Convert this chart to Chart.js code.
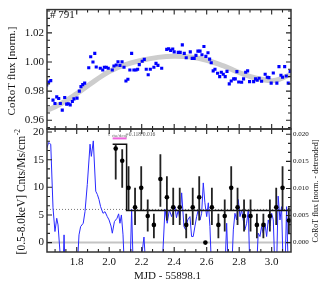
<!DOCTYPE html>
<html><head><meta charset="utf-8">
<script src="https://cdn.jsdelivr.net/npm/chart.js@4.4.1/dist/chart.umd.min.js"></script>
<style>
html,body{margin:0;padding:0;background:#fff;}
#wrap{position:relative;width:327px;height:287px;background:#fff;}
canvas{position:absolute;left:0;top:0;}
</style></head><body>
<div id="wrap"><canvas id="cTop" width="327" height="287"></canvas><canvas id="cBot" width="327" height="287"></canvas></div>
<script>
// ---------------- data ----------------
const corotTime = [1.615,1.627,1.640,1.654,1.666,1.677,1.689,1.699,1.711,1.726,1.738,1.748,1.760,1.773,1.783,1.802,1.816,1.826,1.837,1.849,
1.874,1.886,1.900,1.911,1.920,1.945,1.960,1.970,1.982,1.994,2.019,2.029,2.043,2.054,2.066,2.079,2.091,2.103,2.115,2.127,
2.138,2.152,2.165,2.175,2.185,2.203,2.216,2.228,2.240,2.253,2.275,2.288,2.300,2.323,2.354,2.366,2.378,2.391,2.400,2.425,
2.437,2.450,2.462,2.474,2.499,2.511,2.523,2.534,2.546,2.559,2.571,2.583,2.595,2.608,2.618,2.628,2.640,2.651,2.667,2.680,
2.690,2.702,2.714,2.725,2.739,2.751,2.766,2.776,2.786,2.797,2.815,2.827,2.840,2.852,2.864,2.889,2.901,2.911,2.923,2.938,
2.960,2.973,2.983,2.997,3.010,3.032,3.045,3.057,3.067,3.080,3.090,3.102,3.114];
const corotFlux = [0.9843,0.9863,0.9872,0.9738,0.9715,0.9761,0.9749,0.9715,0.9670,0.9756,0.9711,0.9713,0.9706,0.9729,0.9747,0.9752,0.9800,0.9831,0.9845,0.9855,
0.9961,1.0036,1.0000,1.0059,0.9966,0.9957,0.9945,0.9964,0.9964,0.9957,0.9945,0.9973,0.9980,1.0002,0.9977,1.0002,0.9964,0.9870,0.9882,0.9945,
1.0059,0.9945,0.9945,0.9950,0.9982,1.0005,1.0018,0.9950,0.9913,0.9950,0.9964,0.9991,0.9977,0.9957,1.0087,1.0091,1.0080,1.0089,1.0070,1.0066,
1.0066,1.0118,1.0059,1.0029,1.0070,1.0025,1.0025,1.0046,1.0075,1.0075,1.0050,1.0107,1.0039,1.0064,1.0020,0.9995,0.9939,0.9950,0.9923,0.9900,
0.9930,0.9916,0.9900,0.9936,0.9850,0.9870,0.9884,0.9884,0.9934,0.9863,0.9861,0.9884,0.9930,0.9939,0.9865,0.9865,0.9884,0.9875,0.9889,0.9868,
0.9916,0.9895,0.9893,0.9855,0.9925,0.9855,0.9968,0.9909,0.9895,0.9968,0.9904,0.9855,0.9936];
const fitTime = [1.600,1.700,1.800,1.900,2.000,2.100,2.200,2.300,2.400,2.500,2.600,2.700,2.800,2.900,3.000,3.050,3.130];
const fitFlux = [0.9658,0.9712,0.9783,0.9862,0.9935,0.9982,1.0012,1.0032,1.0040,1.0034,1.0012,0.9975,0.9928,0.9890,0.9871,0.9882,0.9925];

const xrayTime = [1.615,1.627,1.640,1.654,1.666,1.677,1.685,1.705,1.716,1.722,1.728,1.802,1.814,1.824,1.840,1.851,1.865,1.882,1.890,1.902,
1.917,1.927,1.937,1.947,1.962,1.974,1.988,1.999,2.011,2.019,2.032,2.048,2.058,2.066,2.075,2.085,2.094,2.128,2.138,2.148,
2.189,2.214,2.226,2.325,2.343,2.357,2.370,2.384,2.394,2.405,2.414,2.425,2.435,2.446,2.460,2.471,2.483,2.497,2.507,2.517,
2.528,2.538,2.548,2.559,2.569,2.579,2.589,2.600,2.610,2.620,2.630,2.712,2.723,2.733,2.754,2.764,2.774,2.784,2.794,2.805,
2.815,2.825,2.835,2.846,2.856,2.866,2.907,2.917,2.928,2.938,2.948,2.959,2.969,2.979,2.989,3.000,3.010,3.020,3.030,3.040,
3.051,3.061,3.071,3.082,3.092,3.102,3.125];
const xrayRate = [17.0,18.1,17.8,6.3,2.0,4.4,3.2,-5,-5,1.4,-5,-5,1.4,2.9,3.5,5.6,10.5,17.8,15.6,18.4,
9.3,8.7,7.8,6.5,5.3,5.6,4.7,4.1,3.0,1.7,3.8,4.4,5.2,3.5,5.0,1.4,-5,-5,6.0,-5,
-5,1.0,-5,-5,6.0,3.5,5.9,4.7,5.6,6.5,4.5,5.9,4.1,9.0,2.9,2.3,4.1,4.7,1.1,1.1,
3.0,4.7,5.9,4.1,5.3,10.8,7.2,4.7,7.2,2.9,-5,-5,3.5,-5,-5,2.3,5.3,4.1,7.8,4.7,
5.9,4.1,2.3,3.5,5.9,-5,-5,1.7,1.1,2.9,1.7,3.5,1.1,4.1,3.0,5.3,4.1,-5,-5,8.4,
4.1,6.5,-5,-5,6.5,-5,-5];

const binTime = [2.040,2.080,2.119,2.159,2.197,2.237,2.275,2.315,2.355,2.394,2.434,2.474,2.514,2.554,2.592,2.632,2.672,2.711,2.751,2.790,2.830,2.870,2.909,2.949,2.989,3.028,3.067,3.106];
const binRate = [17.0,14.8,9.9,6.4,9.9,4.8,3.2,11.5,8.2,6.4,6.4,3.2,6.4,8.2,0.0,6.4,3.2,4.8,9.9,6.4,4.8,4.8,3.2,3.2,4.8,6.4,9.9,4.0];
const binLow  = [11.4,9.9,5.9,3.2,5.9,2.0,0.8,6.5,4.0,3.2,3.2,0.8,3.2,4.0,null,3.2,0.8,2.0,5.9,3.2,2.0,2.0,0.8,0.8,2.0,3.2,5.9,1.6];
const binHigh = [17.8,16.9,13.8,9.9,13.8,7.8,5.2,16.0,12.0,9.9,9.9,5.2,9.9,12.0,null,9.9,5.2,7.8,13.8,9.9,7.8,7.8,5.2,5.2,7.8,9.9,13.8,6.4];

const blockEdges = [2.021, 2.107, 3.119];
const blockLevels = [17.8, 5.8];
const meanLevel = 6.0;
const tauSpan = [2.021, 2.107];
const tauLevel = 18.85;
const tauLabel = "=0.118/0.016";

const xRange = [1.617, 3.119];
const fluxRange = [0.954, 1.036];
const rateRange = [-1.7, 20.55];
const detrRange = [-0.00173, 0.02098];

const xTickStep = 0.2, fluxTickStep = 0.02, rateTickStep = 5, detrTickStep = 0.005;

// ---------------- helpers ----------------
const serif = '"Liberation Serif","Times New Roman",serif';
function isMult(v, step){ const r = v/step; return Math.abs(r - Math.round(r)) < 1e-6; }
function tickValues(scale, step){
  const out = [];
  const k0 = Math.ceil(scale.min/step - 1e-9), k1 = Math.floor(scale.max/step + 1e-9);
  for (let k = k0; k <= k1; k++) out.push(k*step);
  return out;
}
function framePlugin(spec){
  return {
    id: 'frameTicks',
    afterDraw(chart){
      const ctx = chart.ctx, a = chart.chartArea;
      ctx.save();
      ctx.strokeStyle = '#222';
      ctx.lineWidth = 1.1;
      ctx.beginPath();
      const xs = chart.scales.x;
      tickValues(xs, spec.xMinor).forEach(v => {
        const p = xs.getPixelForValue(v);
        if (p <= a.left + 1 || p >= a.right - 1) return;
        const len = isMult(v, spec.xMajor) ? 5 : 3;
        ctx.moveTo(p, a.bottom); ctx.lineTo(p, a.bottom - len);
        ctx.moveTo(p, a.top); ctx.lineTo(p, a.top + len);
      });
      const yl = chart.scales.y;
      tickValues(yl, spec.yMinor).forEach(v => {
        const p = yl.getPixelForValue(v);
        if (p <= a.top + 1 || p >= a.bottom - 1) return;
        const len = isMult(v, spec.yMajor) ? 5 : 3;
        ctx.moveTo(a.left, p); ctx.lineTo(a.left + len, p);
      });
      const yr = chart.scales[spec.rScale];
      tickValues(yr, spec.rMinor).forEach(v => {
        const p = yr.getPixelForValue(v);
        if (p <= a.top + 1 || p >= a.bottom - 1) return;
        const len = isMult(v, spec.rMajor) ? 5 : 3;
        ctx.moveTo(a.right, p); ctx.lineTo(a.right - len, p);
      });
      ctx.stroke();
      ctx.lineWidth = 1.5;
      ctx.strokeStyle = '#333';
      ctx.strokeRect(a.left, a.top, a.right - a.left, a.bottom - a.top);
      ctx.restore();
    }
  };
}
function vText(ctx, text, x, y, size){
  ctx.save(); ctx.translate(x, y); ctx.rotate(-Math.PI/2);
  ctx.font = size + 'px ' + serif; ctx.textAlign = 'center'; ctx.textBaseline = 'middle';
  ctx.fillStyle = '#111'; ctx.fillText(text, 0, 0); ctx.restore();
}

// ---------------- top panel ----------------
const topTitles = {
  id: 'topTitles',
  afterDraw(chart){
    const ctx = chart.ctx;
    vText(ctx, 'CoRoT flux [norm.]', 12.5, 71, 11);
    ctx.save(); ctx.font = '11px ' + serif; ctx.fillStyle = '#111';
    ctx.textBaseline = 'middle'; ctx.textAlign = 'left';
    ctx.fillText('# 791', 50, 15); ctx.restore();
  }
};

new Chart(document.getElementById('cTop'), {
  type: 'scatter',
  data: { datasets: [
    { type: 'scatter', data: corotTime.map((t,i)=>({x:t, y:corotFlux[i]})),
      pointStyle: 'rect', pointRadius: 2.2, backgroundColor: '#0000ff', borderWidth: 0 },
    { type: 'line', data: fitTime.map((t,i)=>({x:t, y:fitFlux[i]})),
      borderColor: '#cdcdcd', borderWidth: 5, pointRadius: 0, tension: 0.4, fill: false }
  ]},
  options: {
    responsive: false, animation: false, devicePixelRatio: 1,
    layout: { padding: { left: 0, right: 36, top: 8, bottom: 158 } },
    plugins: { legend: { display: false }, tooltip: { enabled: false } },
    scales: {
      x: { type: 'linear', display: false, min: xRange[0], max: xRange[1] },
      y: { type: 'linear', position: 'left', min: fluxRange[0], max: fluxRange[1],
        grid: { display: false, drawTicks: false }, border: { display: false },
        ticks: { stepSize: fluxTickStep, includeBounds: false, autoSkip: false, padding: 3, color: '#111',
          font: { family: serif, size: 11 },
          callback: v => isMult(v, fluxTickStep) ? v.toFixed(2) : null },
        afterFit(s){ s.width = 47; } }
    }
  },
  plugins: [framePlugin({xMinor: xTickStep/3, xMajor: xTickStep, yMinor: fluxTickStep/4, yMajor: fluxTickStep,
    rScale: 'y', rMinor: fluxTickStep/4, rMajor: fluxTickStep}), topTitles]
});

// ---------------- bottom panel ----------------
const errorBars = {
  id: 'errorBars',
  beforeDatasetDraw(chart, args){
    if (args.index !== 0) return;
    const ctx = chart.ctx, xs = chart.scales.x, ys = chart.scales.y, a = chart.chartArea;
    ctx.save();
    ctx.beginPath(); ctx.rect(a.left, a.top, a.right - a.left, a.bottom - a.top); ctx.clip();
    ctx.strokeStyle = '#222'; ctx.lineWidth = 1.8;
    ctx.beginPath();
    binTime.forEach((t,i) => {
      if (binLow[i] == null) return;
      const px = xs.getPixelForValue(t);
      ctx.moveTo(px, ys.getPixelForValue(binLow[i]));
      ctx.lineTo(px, ys.getPixelForValue(binHigh[i]));
    });
    ctx.stroke(); ctx.restore();
  }
};
const botDecor = {
  id: 'botDecor',
  afterDatasetsDraw(chart){
    const ctx = chart.ctx, xs = chart.scales.x, ys = chart.scales.y;
    const p0 = xs.getPixelForValue(tauSpan[0]), p1 = xs.getPixelForValue(tauSpan[1]);
    const py = ys.getPixelForValue(tauLevel);
    ctx.save();
    ctx.strokeStyle = '#ee66dd'; ctx.lineWidth = 2;
    ctx.beginPath(); ctx.moveTo(p0, py); ctx.lineTo(p1, py); ctx.stroke();
    ctx.fillStyle = '#555'; ctx.textBaseline = 'alphabetic'; ctx.textAlign = 'left';
    ctx.font = '6px ' + serif; ctx.fillText('t', p0 - 4.5, py - 2);
    ctx.font = '3.8px ' + serif; ctx.fillText('rise/decay', p0 - 0.5, py - 1);
    ctx.font = '5.6px ' + serif; ctx.fillText(tauLabel, p1 - 1, py - 2);
    ctx.restore();
  },
  afterDraw(chart){
    const ctx = chart.ctx;
    ctx.save(); ctx.translate(22, 192); ctx.rotate(-Math.PI/2);
    ctx.fillStyle = '#111'; ctx.textBaseline = 'middle'; ctx.textAlign = 'left';
    const main = '[0.5-8.0keV] Cnts/Ms/cm', sup = '-2';
    ctx.font = '11.5px ' + serif; const w1 = ctx.measureText(main).width;
    ctx.font = '7.5px ' + serif; const w2 = ctx.measureText(sup).width;
    const x0 = -(w1 + w2)/2;
    ctx.font = '11.5px ' + serif; ctx.fillText(main, x0, 0);
    ctx.font = '7.5px ' + serif; ctx.fillText(sup, x0 + w1 + 0.5, -4);
    ctx.restore();
    vText(ctx, 'CoRoT flux [norm. - detrended]', 316, 191, 8);
    ctx.save(); ctx.font = '11px ' + serif; ctx.fillStyle = '#111';
    ctx.textAlign = 'center'; ctx.textBaseline = 'middle';
    ctx.fillText('MJD - 55898.1', 167.5, 276.5); ctx.restore();
  }
};

new Chart(document.getElementById('cBot'), {
  type: 'scatter',
  data: { datasets: [
    { type: 'scatter', data: binTime.map((t,i)=>({x:t, y:binRate[i]})),
      pointStyle: 'circle', pointRadius: 2.3, backgroundColor: '#000', borderWidth: 0 },
    { type: 'line', data: blockLevels.flatMap((lv,i)=>[{x:blockEdges[i], y:lv},{x:blockEdges[i+1], y:lv}]),
      borderColor: '#111', borderWidth: 1.5, pointRadius: 0, tension: 0, fill: false },
    { type: 'line', data: xrayTime.map((t,i)=>({x:t, y:xrayRate[i]})),
      borderColor: '#2a2aff', borderWidth: 1, pointRadius: 0, tension: 0, fill: false },
    { type: 'line', data: [{x:xRange[0], y:meanLevel},{x:xRange[1], y:meanLevel}],
      borderColor: '#777', borderWidth: 1, borderDash: [1,2], pointRadius: 0, fill: false },
    { type: 'line', data: [{x:xRange[0], y:0},{x:xRange[1], y:0}],
      borderColor: '#c4c4c4', borderWidth: 2, pointRadius: 0, fill: false }
  ]},
  options: {
    responsive: false, animation: false, devicePixelRatio: 1,
    layout: { padding: { left: 0, right: 0, top: 129, bottom: 0 } },
    plugins: { legend: { display: false }, tooltip: { enabled: false } },
    scales: {
      x: { type: 'linear', position: 'bottom', min: xRange[0], max: xRange[1],
        grid: { display: false, drawTicks: false }, border: { display: false },
        ticks: { stepSize: xTickStep, includeBounds: false, autoSkip: false, maxRotation: 0, padding: 4, color: '#111',
          font: { family: serif, size: 11 },
          callback: v => isMult(v, xTickStep) ? v.toFixed(1) : null },
        afterFit(s){ s.height = 35; } },
      y: { type: 'linear', position: 'left', min: rateRange[0], max: rateRange[1],
        grid: { display: false, drawTicks: false }, border: { display: false },
        ticks: { stepSize: rateTickStep, includeBounds: false, autoSkip: false, padding: 3, color: '#111',
          font: { family: serif, size: 11 },
          callback: v => isMult(v, rateTickStep) ? String(Math.round(v)) : null },
        afterFit(s){ s.width = 47; } },
      y2: { type: 'linear', position: 'right', min: detrRange[0], max: detrRange[1],
        grid: { display: false, drawTicks: false }, border: { display: false },
        ticks: { stepSize: detrTickStep, includeBounds: false, autoSkip: false, padding: 2, color: '#111',
          font: { family: serif, size: 7 },
          callback: v => isMult(v, detrTickStep) ? v.toFixed(3) : null },
        afterFit(s){ s.width = 36; } }
    }
  },
  plugins: [errorBars, framePlugin({xMinor: xTickStep/3, xMajor: xTickStep, yMinor: rateTickStep/3, yMajor: rateTickStep,
    rScale: 'y2', rMinor: detrTickStep/3, rMajor: detrTickStep}), botDecor]
});
</script>
</body></html>
